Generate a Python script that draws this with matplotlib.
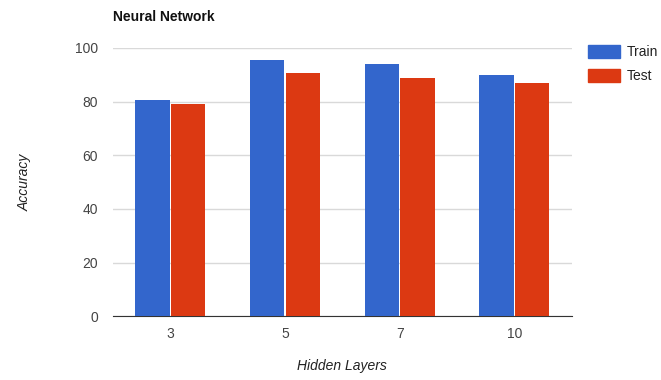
import numpy as np
import matplotlib.pyplot as plt
from matplotlib.patches import Patch

layers = ['3', '5', '7', '10']
train_acc = [80.6, 95.5, 94.0, 89.9]
test_acc = [79.1, 90.7, 88.8, 86.9]

blue = '#3366CC'
red = '#DC3912'

plt.rcParams['font.family'] = ['Liberation Sans', 'DejaVu Sans']

fig = plt.figure(figsize=(6.61, 3.80), dpi=100)
ax = fig.add_axes([0.171, 0.168, 0.694, 0.706])

x = np.arange(len(layers))
w = 0.3
ax.bar(x - w / 2 - 0.005, train_acc, w, color=blue, zorder=3)
ax.bar(x + w / 2 + 0.005, test_acc, w, color=red, zorder=3)

ax.set_xlim(-0.5, len(layers) - 0.5)
ax.set_ylim(0, 100)
ax.set_yticks(range(0, 101, 20))
ax.set_xticks(x)
ax.set_xticklabels(layers)
ax.yaxis.grid(True, color='#d9d9d9', linewidth=1, zorder=0)
for side in ['top', 'right', 'left']:
    ax.spines[side].set_visible(False)
ax.spines['bottom'].set_color('#333333')
ax.tick_params(axis='y', length=0, labelsize=10, colors='#444444', pad=11)
ax.tick_params(axis='x', length=0, labelsize=10, colors='#444444', pad=8)

ax.set_xlabel('Hidden Layers', style='italic', fontsize=10, color='#222222', labelpad=13)
ax.set_ylabel('Accuracy', style='italic', fontsize=10, color='#222222', labelpad=31)
fig.text(0.171, 0.945, 'Neural Network', fontsize=10, fontweight='bold', color='#111111')

handles = [Patch(color=blue, label='Train'), Patch(color=red, label='Test')]
fig.legend(handles=handles, loc='upper left', bbox_to_anchor=(0.881, 0.895),
           frameon=False, fontsize=10, handlelength=2.3, handleheight=1.0,
           labelcolor='#222222', handletextpad=0.5, labelspacing=0.7,
           borderaxespad=0)

fig.savefig('out.png', dpi=100)
